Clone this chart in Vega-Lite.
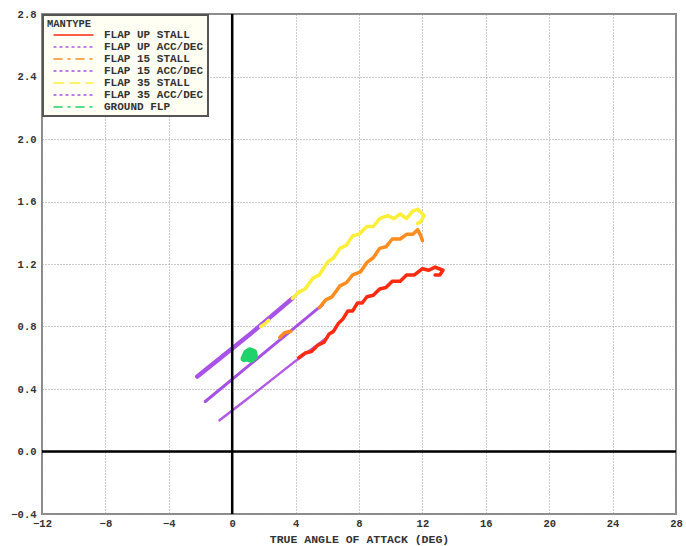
{
  "$schema": "https://vega.github.io/schema/vega-lite/v6.json",
  "autosize": {"type": "none"},
  "padding": {"left": 42, "top": 14, "right": 10, "bottom": 32},
  "width": 634,
  "height": 500,
  "background": "white",
  "config": {
    "view": {"stroke": "#8a8a8a", "strokeWidth": 2},
    "font": "Liberation Mono",
    "axis": {
      "labelFont": "Liberation Mono", "labelFontWeight": "bold", "labelFontSize": 10.5, "labelColor": "#333",
      "titleFont": "Liberation Mono", "titleFontWeight": "bold", "titleFontSize": 11.5, "titleColor": "#333",
      "grid": true, "gridColor": "#999", "gridDash": [1, 2], "gridWidth": 1,
      "ticks": false, "domain": false
    }
  },
  "datasets": {
    "d": [
      {"m": "FLAP UP ACC/DEC", "seg": "a", "i": 1, "x": -0.8, "y": 0.20},
      {"m": "FLAP UP ACC/DEC", "seg": "a", "i": 2, "x": 1.5, "y": 0.38},
      {"m": "FLAP UP ACC/DEC", "seg": "a", "i": 3, "x": 4.0, "y": 0.58},
      {"m": "FLAP UP ACC/DEC", "seg": "a", "i": 4, "x": 6.0, "y": 0.73},
      {"m": "FLAP 15 ACC/DEC", "seg": "a", "i": 1, "x": -1.7, "y": 0.32},
      {"m": "FLAP 15 ACC/DEC", "seg": "a", "i": 2, "x": 2.0, "y": 0.63},
      {"m": "FLAP 15 ACC/DEC", "seg": "a", "i": 3, "x": 5.7, "y": 0.94},
      {"m": "FLAP 35 ACC/DEC", "seg": "a", "i": 1, "x": -2.2, "y": 0.48},
      {"m": "FLAP 35 ACC/DEC", "seg": "a", "i": 2, "x": 1.0, "y": 0.74},
      {"m": "FLAP 35 ACC/DEC", "seg": "a", "i": 3, "x": 3.8, "y": 0.98},
      {"m": "FLAP UP STALL", "seg": "a", "i": 1, "x": 4.2, "y": 0.60},
      {"m": "FLAP UP STALL", "seg": "a", "i": 2, "x": 4.6, "y": 0.63},
      {"m": "FLAP UP STALL", "seg": "a", "i": 3, "x": 5.0, "y": 0.64},
      {"m": "FLAP UP STALL", "seg": "a", "i": 4, "x": 5.4, "y": 0.68},
      {"m": "FLAP UP STALL", "seg": "a", "i": 5, "x": 5.8, "y": 0.70},
      {"m": "FLAP UP STALL", "seg": "a", "i": 6, "x": 6.1, "y": 0.75},
      {"m": "FLAP UP STALL", "seg": "a", "i": 7, "x": 6.4, "y": 0.77},
      {"m": "FLAP UP STALL", "seg": "a", "i": 8, "x": 6.7, "y": 0.82},
      {"m": "FLAP UP STALL", "seg": "a", "i": 9, "x": 7.0, "y": 0.85},
      {"m": "FLAP UP STALL", "seg": "a", "i": 10, "x": 7.3, "y": 0.90},
      {"m": "FLAP UP STALL", "seg": "a", "i": 11, "x": 7.6, "y": 0.90},
      {"m": "FLAP UP STALL", "seg": "a", "i": 12, "x": 7.9, "y": 0.95},
      {"m": "FLAP UP STALL", "seg": "a", "i": 13, "x": 8.2, "y": 0.95},
      {"m": "FLAP UP STALL", "seg": "a", "i": 14, "x": 8.5, "y": 0.99},
      {"m": "FLAP UP STALL", "seg": "a", "i": 15, "x": 8.9, "y": 1.00},
      {"m": "FLAP UP STALL", "seg": "a", "i": 16, "x": 9.3, "y": 1.04},
      {"m": "FLAP UP STALL", "seg": "a", "i": 17, "x": 9.7, "y": 1.05},
      {"m": "FLAP UP STALL", "seg": "a", "i": 18, "x": 10.1, "y": 1.09},
      {"m": "FLAP UP STALL", "seg": "a", "i": 19, "x": 10.6, "y": 1.09},
      {"m": "FLAP UP STALL", "seg": "a", "i": 20, "x": 11.0, "y": 1.13},
      {"m": "FLAP UP STALL", "seg": "a", "i": 21, "x": 11.5, "y": 1.13},
      {"m": "FLAP UP STALL", "seg": "a", "i": 22, "x": 12.0, "y": 1.17},
      {"m": "FLAP UP STALL", "seg": "a", "i": 23, "x": 12.4, "y": 1.16},
      {"m": "FLAP UP STALL", "seg": "a", "i": 24, "x": 12.8, "y": 1.18},
      {"m": "FLAP UP STALL", "seg": "a", "i": 25, "x": 13.3, "y": 1.16},
      {"m": "FLAP UP STALL", "seg": "a", "i": 26, "x": 13.1, "y": 1.13},
      {"m": "FLAP UP STALL", "seg": "a", "i": 27, "x": 12.8, "y": 1.13},
      {"m": "FLAP 15 STALL", "seg": "a", "i": 1, "x": 3.0, "y": 0.73},
      {"m": "FLAP 15 STALL", "seg": "a", "i": 2, "x": 3.3, "y": 0.76},
      {"m": "FLAP 15 STALL", "seg": "a", "i": 3, "x": 3.7, "y": 0.77},
      {"m": "FLAP 15 STALL", "seg": "b", "i": 4, "x": 5.5, "y": 0.92},
      {"m": "FLAP 15 STALL", "seg": "b", "i": 5, "x": 5.9, "y": 0.97},
      {"m": "FLAP 15 STALL", "seg": "b", "i": 6, "x": 6.3, "y": 0.99},
      {"m": "FLAP 15 STALL", "seg": "b", "i": 7, "x": 6.8, "y": 1.06},
      {"m": "FLAP 15 STALL", "seg": "b", "i": 8, "x": 7.2, "y": 1.08},
      {"m": "FLAP 15 STALL", "seg": "b", "i": 9, "x": 7.6, "y": 1.13},
      {"m": "FLAP 15 STALL", "seg": "b", "i": 10, "x": 8.1, "y": 1.15},
      {"m": "FLAP 15 STALL", "seg": "b", "i": 11, "x": 8.5, "y": 1.21},
      {"m": "FLAP 15 STALL", "seg": "b", "i": 12, "x": 8.9, "y": 1.24},
      {"m": "FLAP 15 STALL", "seg": "b", "i": 13, "x": 9.3, "y": 1.30},
      {"m": "FLAP 15 STALL", "seg": "b", "i": 14, "x": 9.7, "y": 1.31},
      {"m": "FLAP 15 STALL", "seg": "b", "i": 15, "x": 10.1, "y": 1.36},
      {"m": "FLAP 15 STALL", "seg": "b", "i": 16, "x": 10.6, "y": 1.36},
      {"m": "FLAP 15 STALL", "seg": "b", "i": 17, "x": 11.0, "y": 1.39},
      {"m": "FLAP 15 STALL", "seg": "b", "i": 18, "x": 11.4, "y": 1.39},
      {"m": "FLAP 15 STALL", "seg": "b", "i": 19, "x": 11.7, "y": 1.42},
      {"m": "FLAP 15 STALL", "seg": "b", "i": 20, "x": 11.9, "y": 1.38},
      {"m": "FLAP 15 STALL", "seg": "b", "i": 21, "x": 12.0, "y": 1.35},
      {"m": "FLAP 35 STALL", "seg": "a", "i": 1, "x": 1.8, "y": 0.80},
      {"m": "FLAP 35 STALL", "seg": "a", "i": 2, "x": 2.1, "y": 0.82},
      {"m": "FLAP 35 STALL", "seg": "a", "i": 3, "x": 2.3, "y": 0.84},
      {"m": "FLAP 35 STALL", "seg": "b", "i": 4, "x": 3.8, "y": 0.98},
      {"m": "FLAP 35 STALL", "seg": "b", "i": 5, "x": 4.2, "y": 1.02},
      {"m": "FLAP 35 STALL", "seg": "b", "i": 6, "x": 4.6, "y": 1.04},
      {"m": "FLAP 35 STALL", "seg": "b", "i": 7, "x": 5.1, "y": 1.11},
      {"m": "FLAP 35 STALL", "seg": "b", "i": 8, "x": 5.5, "y": 1.13},
      {"m": "FLAP 35 STALL", "seg": "b", "i": 9, "x": 6.0, "y": 1.21},
      {"m": "FLAP 35 STALL", "seg": "b", "i": 10, "x": 6.4, "y": 1.24},
      {"m": "FLAP 35 STALL", "seg": "b", "i": 11, "x": 6.8, "y": 1.30},
      {"m": "FLAP 35 STALL", "seg": "b", "i": 12, "x": 7.2, "y": 1.32},
      {"m": "FLAP 35 STALL", "seg": "b", "i": 13, "x": 7.6, "y": 1.38},
      {"m": "FLAP 35 STALL", "seg": "b", "i": 14, "x": 8.0, "y": 1.39},
      {"m": "FLAP 35 STALL", "seg": "b", "i": 15, "x": 8.5, "y": 1.44},
      {"m": "FLAP 35 STALL", "seg": "b", "i": 16, "x": 8.9, "y": 1.44},
      {"m": "FLAP 35 STALL", "seg": "b", "i": 17, "x": 9.3, "y": 1.49},
      {"m": "FLAP 35 STALL", "seg": "b", "i": 18, "x": 9.8, "y": 1.51},
      {"m": "FLAP 35 STALL", "seg": "b", "i": 19, "x": 10.2, "y": 1.49},
      {"m": "FLAP 35 STALL", "seg": "b", "i": 20, "x": 10.6, "y": 1.52},
      {"m": "FLAP 35 STALL", "seg": "b", "i": 21, "x": 11.0, "y": 1.49},
      {"m": "FLAP 35 STALL", "seg": "b", "i": 22, "x": 11.4, "y": 1.54},
      {"m": "FLAP 35 STALL", "seg": "b", "i": 23, "x": 11.7, "y": 1.55},
      {"m": "FLAP 35 STALL", "seg": "b", "i": 24, "x": 12.1, "y": 1.51},
      {"m": "FLAP 35 STALL", "seg": "b", "i": 25, "x": 11.9, "y": 1.47},
      {"m": "FLAP 35 STALL", "seg": "b", "i": 26, "x": 11.7, "y": 1.46},
      {"m": "GROUND FLP", "seg": "a", "i": 1, "x": 0.75, "y": 0.595},
      {"m": "GROUND FLP", "seg": "a", "i": 2, "x": 0.9, "y": 0.63},
      {"m": "GROUND FLP", "seg": "a", "i": 3, "x": 1.1, "y": 0.645},
      {"m": "GROUND FLP", "seg": "a", "i": 4, "x": 1.35, "y": 0.635},
      {"m": "GROUND FLP", "seg": "a", "i": 5, "x": 1.4, "y": 0.61},
      {"m": "GROUND FLP", "seg": "a", "i": 6, "x": 1.2, "y": 0.59},
      {"m": "GROUND FLP", "seg": "a", "i": 7, "x": 0.9, "y": 0.60},
      {"m": "GROUND FLP", "seg": "a", "i": 8, "x": 1.05, "y": 0.62},
      {"m": "GROUND FLP", "seg": "a", "i": 9, "x": 1.2, "y": 0.615}
    ],
    "zero": [{"v": 0}]
  },
  "layer": [
    {
      "data": {"name": "d"},
      "encoding": {
        "x": {
          "field": "x", "type": "quantitative",
          "scale": {"domain": [-12, 28], "nice": false, "zero": false},
          "axis": {
            "values": [-12, -10, -8, -6, -4, -2, 0, 2, 4, 6, 8, 10, 12, 14, 16, 18, 20, 22, 24, 26, 28],
            "labelExpr": "datum.value % 4 == 0 ? datum.label : ''",
            "title": "TRUE ANGLE OF ATTACK (DEG)", "titlePadding": 5, "labelPadding": 4, "labelFlush": false
          }
        },
        "y": {
          "field": "y", "type": "quantitative",
          "scale": {"domain": [-0.4, 2.8], "nice": false, "zero": false},
          "axis": {
            "values": [-0.4, -0.2, 0, 0.2, 0.4, 0.6, 0.8, 1.0, 1.2, 1.4, 1.6, 1.8, 2.0, 2.2, 2.4, 2.6, 2.8],
            "format": ".1f",
            "labelExpr": "abs(round(datum.value * 10)) % 4 == 0 ? datum.label : ''",
            "title": null, "labelPadding": 6, "labelFlush": false
          }
        },
        "color": {
          "field": "m", "type": "nominal",
          "scale": {
            "domain": ["FLAP UP STALL", "FLAP UP ACC/DEC", "FLAP 15 STALL", "FLAP 15 ACC/DEC", "FLAP 35 STALL", "FLAP 35 ACC/DEC", "GROUND FLP"],
            "range": ["#ff2a10", "#b25ae6", "#ff8c1e", "#a650e6", "#fbef3a", "#a852e8", "#1fd26a"]
          },
          "legend": {
            "title": "MANTYPE",
            "orient": "top-left", "offset": 1,
            "fillColor": "#fffff3", "strokeColor": "#555",
            "padding": 4,
            "titleFont": "Liberation Mono", "titleFontWeight": "bold", "titleFontSize": 10.5, "titleColor": "#333", "titlePadding": 0,
            "labelFont": "Liberation Mono", "labelFontWeight": "bold", "labelFontSize": 11, "labelColor": "#333", "labelOffset": 25,
            "symbolType": "M-5,0H5", "symbolSize": 64, "symbolOffset": 21, "rowPadding": 0,
            "encode": {
              "legend": {"update": {"strokeWidth": {"value": 2}}},
              "symbols": {
                "update": {
                  "strokeWidth": {"value": 1.5},
                  "fillOpacity": {"value": 0},
                  "strokeDash": {"signal": "datum.value == 'FLAP UP STALL' ? [1,0] : (datum.value == 'FLAP 15 STALL' || datum.value == 'GROUND FLP') ? [9,5,3,5] : datum.value == 'FLAP 35 STALL' ? [11,5] : [3,3]"}
                }
              }
            }
          }
        },
        "detail": {"field": "seg", "type": "nominal"},
        "order": {"field": "i", "type": "quantitative"}
      },
      "layer": [
        {
          "transform": [{"filter": {"field": "m", "equal": "FLAP UP ACC/DEC"}}],
          "mark": {"type": "line", "strokeCap": "round", "strokeWidth": 2.5}
        },
        {
          "transform": [{"filter": {"field": "m", "equal": "FLAP 15 ACC/DEC"}}],
          "mark": {"type": "line", "strokeCap": "round", "strokeWidth": 3}
        },
        {
          "transform": [{"filter": {"field": "m", "equal": "FLAP 35 ACC/DEC"}}],
          "mark": {"type": "line", "strokeCap": "round", "strokeWidth": 4.5}
        },
        {
          "transform": [{"filter": {"field": "m", "oneOf": ["FLAP UP STALL", "FLAP 15 STALL", "FLAP 35 STALL"]}}],
          "mark": {"type": "line", "strokeCap": "round", "strokeJoin": "round", "strokeWidth": 3.5}
        },
        {
          "transform": [{"filter": {"field": "m", "equal": "GROUND FLP"}}],
          "mark": {"type": "line", "strokeCap": "round", "strokeJoin": "round", "strokeWidth": 7}
        }
      ]
    },
    {
      "data": {"name": "zero"},
      "mark": {"type": "rule", "color": "black", "strokeWidth": 2.5},
      "encoding": {"x": {"field": "v", "type": "quantitative"}}
    },
    {
      "data": {"name": "zero"},
      "mark": {"type": "rule", "color": "black", "strokeWidth": 2.5},
      "encoding": {"y": {"field": "v", "type": "quantitative"}}
    }
  ]
}
